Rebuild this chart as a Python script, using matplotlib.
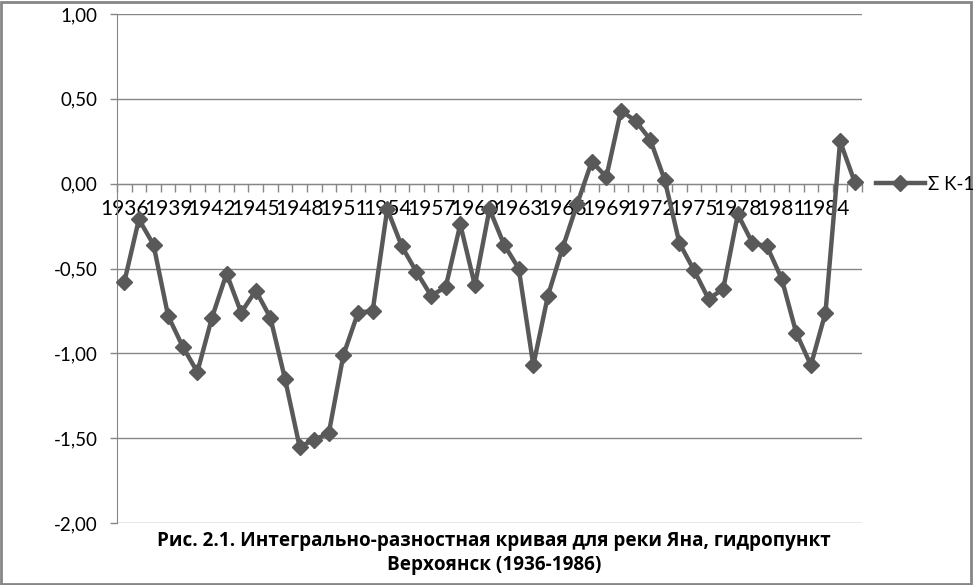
import matplotlib
matplotlib.use("Agg")
import matplotlib.pyplot as plt
import numpy as np
from matplotlib.ticker import FixedLocator, FuncFormatter
from matplotlib.lines import Line2D
from matplotlib.patches import Rectangle

plt.rcParams['font.family'] = ['Lato', 'Noto Sans', 'DejaVu Sans']

years = list(range(1936, 1987))
sum_k = [-0.58, -0.21, -0.36, -0.78, -0.96, -1.11, -0.79, -0.53, -0.76, -0.63,
         -0.79, -1.15, -1.55, -1.51, -1.47, -1.01, -0.76, -0.75, -0.15, -0.37,
         -0.52, -0.66, -0.61, -0.24, -0.60, -0.15, -0.36, -0.50, -1.07, -0.66,
         -0.38, -0.12, 0.13, 0.04, 0.43, 0.37, 0.26, 0.02, -0.35, -0.51,
         -0.68, -0.62, -0.18, -0.35, -0.37, -0.56, -0.88, -1.07, -0.76, 0.25,
         0.01]
y_ticks = [-2.0, -1.5, -1.0, -0.5, 0.0, 0.5, 1.0]
series_name = 'Σ K-1'
title = 'Рис. 2.1. Интегрально-разностная кривая для реки Яна, гидропункт\nВерхоянск (1936-1986)'

grey = '#868686'
line_c = '#595959'

fig = plt.figure(figsize=(9.76, 5.85), dpi=100)
ax = fig.add_axes([117/976, 1 - 523/585, (862 - 117)/976, (523 - 14)/585])

x = np.arange(len(years))
ax.plot(x, sum_k, color=line_c, lw=3.2, marker='D', ms=8, mec=line_c, mfc=line_c,
        zorder=5, clip_on=False)

ax.set_xlim(-0.5, len(years) - 0.5)
ax.set_ylim(-2, 1)

# gridlines
ax.set_yticks(y_ticks)
ax.yaxis.set_major_formatter(FuncFormatter(lambda v, p: f"{v:.2f}".replace('.', ',')))
ax.grid(axis='y', color=grey, lw=1)
ax.set_axisbelow(True)

for s in ['top', 'right']:
    ax.spines[s].set_visible(False)
ax.spines['left'].set_color(grey)
ax.spines['bottom'].set_color(grey)
ax.spines['bottom'].set_position(('data', 0))

ax.tick_params(axis='y', length=5, width=1, color=grey, pad=9, labelsize=13.5,
               labelcolor='#000000')

# x axis: ticks on boundaries, labels every 3rd category
ax.xaxis.set_minor_locator(FixedLocator(np.arange(-0.5, len(years), 1)))
ax.set_xticks(x[::3])
ax.set_xticklabels([str(y) for y in years[::3]])
ax.tick_params(axis='x', which='minor', length=6, width=1, color=grey, direction='out')
ax.tick_params(axis='x', which='major', length=0, pad=11, labelsize=15,
               labelcolor='#000000')

# legend
handle = Line2D([], [], color=line_c, lw=3.2, marker='D', ms=8, mfc=line_c, mec=line_c)
fig.legend([handle], [series_name], loc='center left',
           bbox_to_anchor=(876/976, 1 - 184/585), frameon=False, fontsize=13.5,
           handlelength=2.6, handletextpad=0.2, borderpad=0, borderaxespad=0)

fig.text(494/976, 1 - 553/585, title, ha='center', va='center', fontsize=13.6,
         fontweight='bold', family=['Open Sans', 'Noto Sans', 'DejaVu Sans'],
         linespacing=1.3, multialignment='center')

fig.patches.append(Rectangle((0.001, 0.002), 0.994, 0.995, transform=fig.transFigure,
                             fill=False, ec=grey, lw=2))

fig.savefig('out.png', dpi=100)
